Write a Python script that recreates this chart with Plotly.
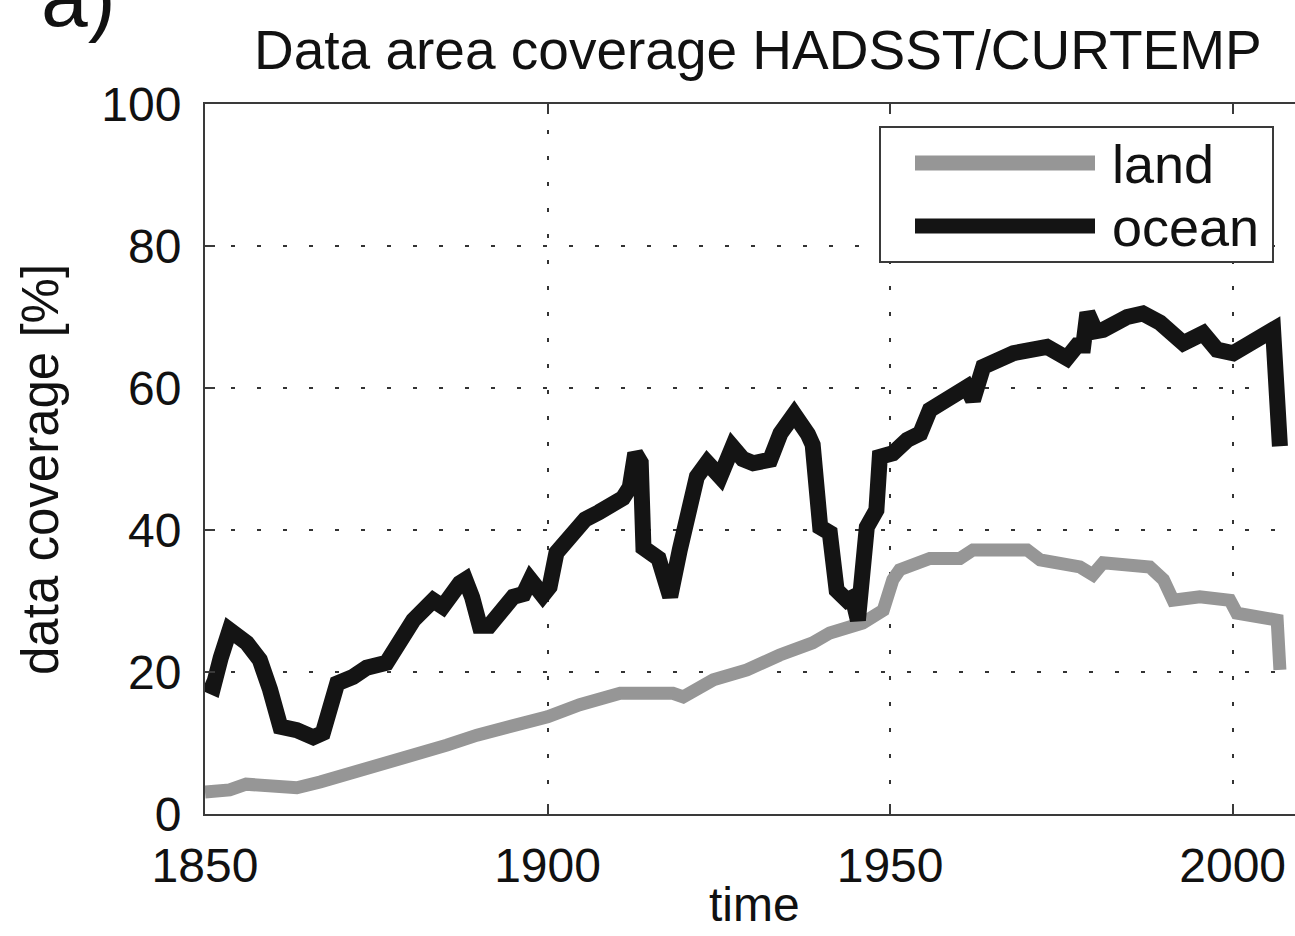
import plotly.graph_objects as go

# Ocean data coverage (%) over time
ocean_years = [1850.0, 1851.2, 1852.3, 1853.6, 1856.1, 1858.0, 1859.5, 1861.0, 1863.4, 1865.8,
               1867.2, 1868.3, 1869.3, 1871.6, 1873.6, 1876.5, 1878.5, 1880.4, 1883.3, 1884.7,
               1887.2, 1888.0, 1889.0, 1890.1, 1891.5, 1893.5, 1895.0, 1896.5, 1897.5, 1899.3,
               1900.3, 1901.3, 1903.0, 1904.3, 1905.5, 1907.5, 1909.5, 1911.0, 1912.0, 1912.8,
               1913.6, 1914.0, 1916.2, 1917.9, 1919.3, 1920.5, 1921.8, 1923.3, 1925.2, 1927.0,
               1928.5, 1930.0, 1932.5, 1934.0, 1936.0, 1938.0, 1938.7, 1939.8, 1941.2, 1942.2,
               1943.7, 1944.5, 1945.3, 1946.6, 1948.0, 1948.5, 1950.4, 1952.5, 1954.4, 1955.8,
               1958.3, 1961.2, 1962.1, 1963.6, 1968.0, 1972.9, 1975.8, 1977.3, 1978.2, 1978.8,
               1980.0, 1981.1, 1984.6, 1986.9, 1989.4, 1992.8, 1995.7, 1997.7, 2000.1, 2002.5,
               2005.9, 2006.9]
ocean_cov = [18.4, 17.9, 22.0, 25.9, 24.1, 21.7, 17.5, 12.3, 11.8, 10.8,
             11.4, 15.0, 18.4, 19.3, 20.6, 21.3, 24.9, 27.3, 30.1, 29.2,
             32.5, 33.0, 30.5, 26.5, 26.5, 28.5, 30.6, 31.0, 33.0, 30.8,
             32.0, 36.8, 38.6, 40.0, 41.5, 42.5, 43.5, 44.5, 46.0, 50.8,
             49.5, 37.5, 36.0, 30.6, 37.2, 43.0, 47.5, 49.5, 47.5, 51.7,
             50.0, 49.4, 49.9, 53.6, 56.3, 53.5, 52.0, 40.4, 39.6, 31.5,
             30.1, 30.5, 27.3, 40.4, 42.8, 50.3, 50.8, 52.7, 53.6, 56.9,
             58.7, 60.1, 58.3, 63.0, 64.9, 65.8, 64.2, 66.0, 66.0, 70.6,
             68.0, 68.2, 70.0, 70.5, 69.2, 66.3, 67.7, 65.4, 64.9, 66.3,
             68.2, 51.8]

# Land data coverage (%) over time
land_years = [1850.0, 1853.6, 1856.0, 1862.4, 1863.4, 1866.8, 1870.7, 1875.5, 1880.4, 1885.3,
              1889.7, 1895.0, 1900.0, 1904.7, 1910.6, 1918.3, 1919.8, 1924.2, 1929.1, 1933.9,
              1938.7, 1941.2, 1946.0, 1949.0, 1950.4, 1951.4, 1954.4, 1955.8, 1960.2, 1962.1,
              1970.0, 1971.9, 1977.7, 1979.6, 1981.1, 1987.9, 1989.9, 1991.3, 1995.2, 1999.6,
              2000.6, 2003.6, 2006.5, 2006.9]
land_cov = [3.1, 3.4, 4.2, 4.1, 3.7, 4.5, 5.5, 6.9, 8.3, 9.7,
            11.1, 12.3, 13.7, 15.4, 17.0, 17.0, 16.5, 18.9, 20.3, 22.4,
            24.1, 25.5, 26.9, 28.7, 33.0, 34.4, 35.4, 36.0, 36.0, 37.2,
            37.2, 35.8, 34.8, 33.7, 35.4, 34.8, 33.0, 30.1, 30.6, 30.1,
            28.3, 27.7, 27.3, 20.3]

x_ticks = [1850, 1900, 1950, 2000]
y_ticks = [0, 20, 40, 60, 80, 100]
series_names = ["land", "ocean"]
title_text = "Data area coverage HADSST/CURTEMP"

LAND_COLOR = "#969696"
OCEAN_COLOR = "#141414"
TEXT_COLOR = "#111111"
FONT = "Liberation Sans, Arial, Helvetica, sans-serif"

W, H = 1295, 936
L, R, T, B = 205, 0, 104, 122
plot_w = W - L - R
plot_h = H - T - B


def px_x(p):
    return (p - L) / plot_w


def px_y(p):
    return (H - B - p) / plot_h


fig = go.Figure()
fig.add_trace(go.Scatter(x=land_years, y=land_cov, mode="lines", name=series_names[0],
                         line=dict(color=LAND_COLOR, width=13), showlegend=False))
fig.add_trace(go.Scatter(x=ocean_years, y=ocean_cov, mode="lines", name=series_names[1],
                         line=dict(color=OCEAN_COLOR, width=16), showlegend=False))

axis_common = dict(
    showgrid=True, gridcolor="#333333", gridwidth=2,
    showline=True, linecolor="#3a3a3a", linewidth=2,
    ticks="inside", ticklen=10, tickwidth=1.5, tickcolor="#3a3a3a",
    zeroline=False,
)

fig.update_xaxes(range=[1850, 1850 + plot_w / 6.851], tickvals=x_ticks,
                 griddash="4px,22px", mirror="ticks", ticklabelstandoff=8,
                 tickfont=dict(family=FONT, size=48, color=TEXT_COLOR),
                 **axis_common)
fig.update_yaxes(range=[0, 100], tickvals=y_ticks, griddash="4px,22px",
                 mirror=False, ticklabelstandoff=12,
                 tickfont=dict(family=FONT, size=48, color=TEXT_COLOR),
                 **axis_common)

# Legend box drawn by hand so the sample lines are long and thick
lg_x0, lg_x1 = px_x(880), px_x(1273)
lg_y0, lg_y1 = px_y(262), px_y(127)
fig.add_shape(type="rect", xref="paper", yref="paper", x0=lg_x0, x1=lg_x1, y0=lg_y0, y1=lg_y1,
              line=dict(color="#3a3a3a", width=2), fillcolor="white", layer="above")
for name, color, py in [(series_names[0], LAND_COLOR, 163), (series_names[1], OCEAN_COLOR, 226)]:
    fig.add_shape(type="line", xref="paper", yref="paper", x0=px_x(915), x1=px_x(1095),
                  y0=px_y(py), y1=px_y(py), line=dict(color=color, width=15), layer="above")
    fig.add_annotation(xref="paper", yref="paper", x=px_x(1110), y=px_y(py + 1), text=name,
                       showarrow=False, xanchor="left", yanchor="middle",
                       font=dict(family=FONT, size=54, color=TEXT_COLOR))

# Title, axis titles and panel letter
fig.add_annotation(xref="paper", yref="paper", x=px_x(758), y=px_y(50), text=title_text,
                   showarrow=False, xanchor="center", yanchor="middle",
                   font=dict(family=FONT, size=55, color=TEXT_COLOR))
fig.add_annotation(xref="paper", yref="paper", x=px_x(754), y=px_y(904), text="time",
                   showarrow=False, xanchor="center", yanchor="middle",
                   font=dict(family=FONT, size=48, color=TEXT_COLOR))
fig.add_annotation(xref="paper", yref="paper", x=px_x(40), y=px_y(470), text="data coverage [%]",
                   showarrow=False, xanchor="center", yanchor="middle", textangle=-90,
                   font=dict(family=FONT, size=51, color=TEXT_COLOR))
fig.add_annotation(xref="paper", yref="paper", x=px_x(78), y=px_y(46), text="a)",
                   showarrow=False, xanchor="center", yanchor="bottom",
                   font=dict(family=FONT, size=84, color=TEXT_COLOR))

fig.update_layout(
    width=W, height=H,
    margin=dict(l=L, r=R, t=T, b=B, pad=0),
    paper_bgcolor="white", plot_bgcolor="white",
    showlegend=False,
)

fig.write_html("out.html")
